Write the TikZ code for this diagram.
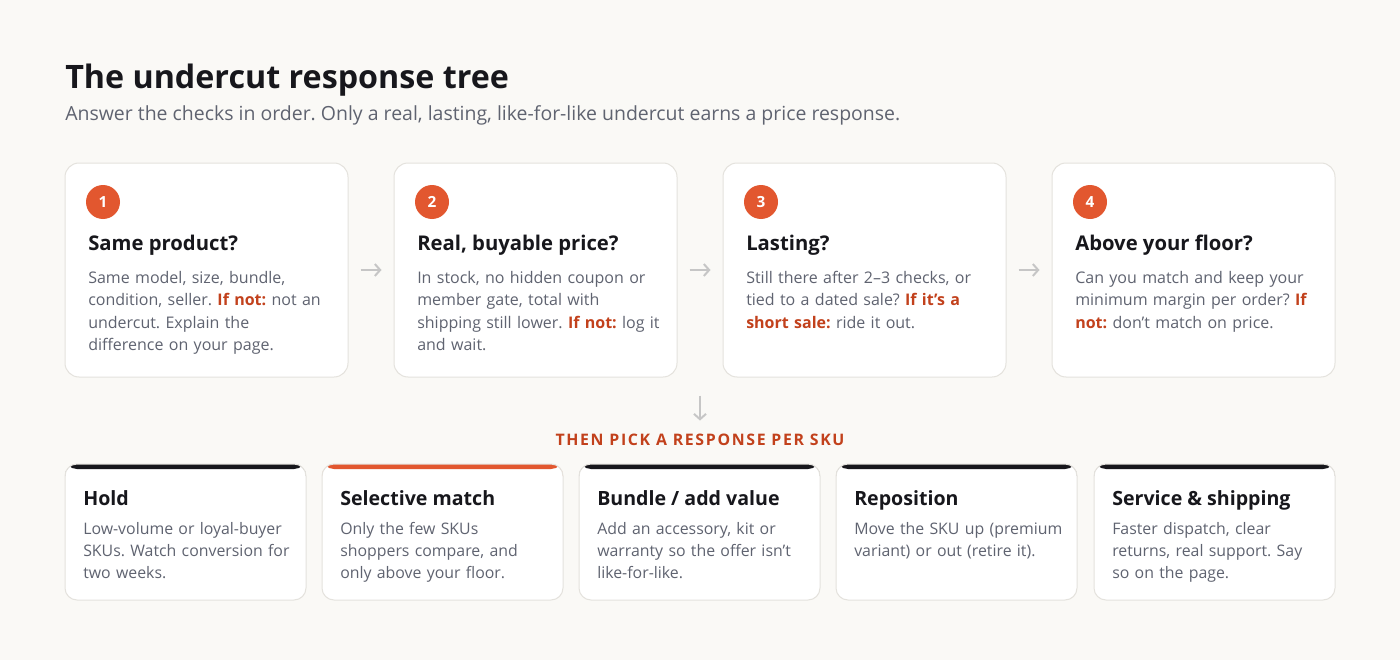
\documentclass[tikz,border=0pt]{standalone}
\usepackage{fontspec}
\setmainfont{Open Sans}
\usetikzlibrary{arrows.meta}

\definecolor{paper}{HTML}{FAF9F6}
\definecolor{cardline}{HTML}{E4E2DD}
\definecolor{ink}{HTML}{17171C}
\definecolor{muted}{HTML}{5F6370}
\definecolor{accent}{HTML}{E2572F}
\definecolor{warn}{HTML}{C2411C}
\definecolor{pale}{HTML}{C6C6C6}

\newcommand{\ifnot}[1]{\textcolor{warn}{\bfseries #1}}

\tikzset{
  flow/.style={draw=pale, line width=1.5pt, -{Straight Barb[length=4pt,width=9pt]}},
  topbar/.style={path picture={\fill[#1] (path picture bounding box.north west) rectangle ([yshift=-3.75pt]path picture bounding box.north east);}}
}

\begin{document}
\frenchspacing
\begin{tikzpicture}[x=0.75pt,y=-0.75pt]

  \fill[paper] (0,0) rectangle (1400,660);
  \useasboundingbox (0,0) rectangle (1400,660);

  % heading
  \node[anchor=base west, inner sep=0, text=ink, font=\fontsize{24.2}{29}\selectfont\bfseries] (title) at (65,89) {The undercut response tree};
  \node[anchor=base west, inner sep=0, text=muted, font=\fontsize{14.6}{17}\selectfont] (sub) at (65,121) {Answer the checks in order. Only a real, lasting, like-for-like undercut earns a price response.};

  % the four checks
  \begin{scope}[every node/.style={draw=cardline, line width=0.75pt, fill=white, rounded corners=10.5pt, minimum width=212.25pt, minimum height=160.5pt}]
    \node (c1) at (206.5,270) {};
    \node (c2) at (535.5,270) {};
    \node (c3) at (864.5,270) {};
    \node (c4) at (1193.5,270) {};
  \end{scope}

  \begin{scope}[every node/.style={circle, fill=accent, text=white, inner sep=0, minimum size=25.5pt, font=\fontsize{11.5}{12}\selectfont\bfseries}]
    \node (n1) at (103,202) {1};
    \node (n2) at (432,202) {2};
    \node (n3) at (761,202) {3};
    \node (n4) at (1090,202) {4};
  \end{scope}

  \begin{scope}[every node/.style={anchor=base west, inner sep=0, text=ink, font=\fontsize{15.2}{18}\selectfont\bfseries}]
    \node (h1) at (88,250) {Same product?};
    \node (h2) at (417,250) {Real, buyable price?};
    \node (h3) at (746,250) {Lasting?};
    \node (h4) at (1075,250) {Above your floor?};
  \end{scope}

  \begin{scope}[every node/.style={anchor=base west, inner sep=0, text=muted, text width=200pt, align=left, font=\fontsize{12}{16.9}\selectfont}]
    \node (b1) at (88,283) {Same model, size, bundle,\\ condition, seller. \ifnot{If not:} not an\\ undercut. Explain the\\ difference on your page.};
    \node (b2) at (417,283) {In stock, no hidden coupon or\\ member gate, total with\\ shipping still lower. \ifnot{If not:} log it\\ and wait.};
    \node (b3) at (746,283) {Still there after 2–3 checks, or\\ tied to a dated sale? \ifnot{If it’s a}\\ \ifnot{short sale:} ride it out.};
    \node (b4) at (1075,283) {Can you match and keep your\\ minimum margin per order? \ifnot{If}\\ \ifnot{not:} don’t match on price.};
  \end{scope}

  \draw[flow, shorten <=9pt, shorten >=9pt] (c1) -- (c2);
  \draw[flow, shorten <=9pt, shorten >=9pt] (c2) -- (c3);
  \draw[flow, shorten <=9pt, shorten >=9pt] (c3) -- (c4);

  % then pick a response
  \coordinate (split) at (700,377);
  \node[inner sep=0, text=warn, font=\fontsize{11.9}{13}\selectfont\bfseries\addfontfeature{LetterSpace=10.5}] (pick) at (700,440) {THEN PICK A RESPONSE PER SKU};
  \draw[flow, shorten <=14pt, shorten >=10pt] (split) -- (pick);

  \begin{scope}[every node/.style={draw=cardline, line width=0.75pt, fill=white, rounded corners=9pt, minimum width=180.75pt, minimum height=102pt}]
    \node[topbar=ink] (r1) at (185.5,532) {};
    \node[topbar=accent] (r2) at (442.5,532) {};
    \node[topbar=ink] (r3) at (699.5,532) {};
    \node[topbar=ink] (r4) at (956.5,532) {};
    \node[topbar=ink] (r5) at (1214.5,532) {};
  \end{scope}

  \begin{scope}[every node/.style={anchor=base west, inner sep=0, text=ink, font=\fontsize{14.7}{17}\selectfont\bfseries}]
    \node (t1) at (83,505) {Hold};
    \node (t2) at (340,505) {Selective match};
    \node (t3) at (597,505) {Bundle / add value};
    \node (t4) at (854,505) {Reposition};
    \node (t5) at (1112,505) {Service \& shipping};
  \end{scope}

  \begin{scope}[every node/.style={anchor=base west, inner sep=0, text=muted, text width=172pt, align=left, font=\fontsize{11.9}{16.5}\selectfont}]
    \node (d1) at (83,534) {Low-volume or loyal-buyer\\ SKUs. Watch conversion for\\ two weeks.};
    \node (d2) at (340,534) {Only the few SKUs\\ shoppers compare, and\\ only above your floor.};
    \node (d3) at (597,534) {Add an accessory, kit or\\ warranty so the offer isn’t\\ like-for-like.};
    \node (d4) at (854,534) {Move the SKU up (premium\\ variant) or out (retire it).};
    \node (d5) at (1112,534) {Faster dispatch, clear\\ returns, real support. Say\\ so on the page.};
  \end{scope}

\end{tikzpicture}
\end{document}
